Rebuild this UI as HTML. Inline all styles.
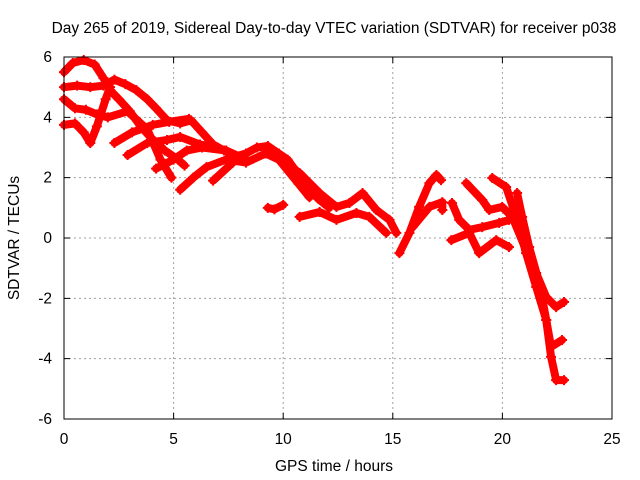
<!DOCTYPE html>
<html><head><meta charset="utf-8"><style>
body{margin:0;background:#fff}
svg{display:block;font-family:"Liberation Sans",sans-serif}
</style></head><body>
<svg id="chart" width="640" height="480">
<rect width="640" height="480" fill="#fff"/>
<g id="grid"></g>
<g id="series"></g>
<rect x="64" y="57" width="548" height="362" fill="none" stroke="#000" stroke-width="1"/>
<g id="ticks"></g>
<text x="334" y="33" text-anchor="middle" font-size="15.5">Day 265 of 2019, Sidereal Day-to-day VTEC variation (SDTVAR) for receiver p038</text>
<text x="334" y="471" text-anchor="middle" font-size="15.5">GPS time / hours</text>
<text transform="translate(19,238) rotate(-90)" text-anchor="middle" font-size="15.5">SDTVAR / TECUs</text>
</svg>
<script>
const xTicks=[0,5,10,15,20,25];
const yTicks=[-6,-4,-2,0,2,4,6];
const trackA=[[0,5.5],[0.4,5.8],[0.9,5.9],[1.4,5.75],[1.8,5.3],[2.1,4.9],[2.5,4.6],[3.0,4.2],[3.5,3.7],[4.0,3.3],[4.6,2.9],[5.2,2.6],[5.5,2.4]];
const trackB=[[0,5.0],[0.6,5.05],[1.2,5.0],[1.8,5.05],[2.3,5.25],[2.8,5.1],[3.3,4.9],[3.8,4.6],[4.2,4.3],[4.7,3.9],[5.3,3.8],[5.8,3.9],[6.3,3.5],[6.8,3.1],[7.3,2.9],[7.8,2.7],[8.3,2.8],[8.8,3.0],[9.3,3.05],[9.8,2.8],[10.2,2.6],[10.7,2.1],[11.1,1.7],[11.6,1.3],[12.1,1.0]];
const trackC=[[0,4.6],[0.5,4.3],[1.0,4.25],[1.5,4.1],[2.0,4.0],[2.9,4.2],[3.8,3.6],[4.4,2.6],[4.9,2.0]];
const trackD=[[0,3.75],[0.5,3.8],[0.9,3.5],[1.2,3.15],[1.5,3.7],[1.9,4.6],[2.1,5.0]];
const trackE=[[2.3,3.15],[3.1,3.5],[4.05,3.75],[4.8,3.85],[5.7,3.95]];
const trackF=[[2.9,2.75],[3.8,3.15],[4.7,3.25],[5.3,3.35],[6.2,3.1],[7.0,3.0]];
const trackG=[[4.2,2.3],[5.0,2.6],[5.6,2.9],[6.3,3.0],[7.4,2.9],[8.3,2.6]];
const trackH=[[5.3,1.6],[5.9,2.0],[6.5,2.35],[7.4,2.6],[8.3,2.5],[9.2,2.8],[9.8,2.6],[10.7,1.8],[11.2,1.35]];
const trackI=[[6.8,1.9],[7.7,2.5]];
const trackJ=[[9.3,1.0],[9.6,0.95],[10.0,1.1]];
const trackR1=[[9.38,2.92],[10.75,2.15],[11.66,1.49],[12.43,1.03],[13.02,1.16],[13.62,1.49],[14.25,0.93],[14.85,0.6],[15.16,0.17]];
const trackR2=[[10.75,0.7],[11.66,0.86],[12.43,0.6],[13.34,0.83],[13.93,0.7],[14.7,0.17]];
const trackR3=[[15.3,-0.5],[15.76,0.17],[16.2,1.03],[16.67,1.82],[16.99,2.09],[17.2,1.92]];
const trackR3b=[[15.9,0.36],[16.67,1.03],[17.26,1.19],[17.26,0.93]];
const trackR4=[[17.7,1.16],[18.03,0.6],[18.49,0.27],[19.08,0.36],[19.85,0.5],[20.3,0.6]];
const trackR5=[[17.67,-0.07],[18.49,0.17],[18.94,-0.5],[19.72,-0.07],[20.3,-0.3]];
const trackR6=[[18.35,1.82],[19.08,1.26],[19.4,0.93],[19.99,1.03],[20.45,0.7],[21.08,-0.4],[21.54,-1.16],[22.0,-1.96],[22.45,-2.29],[22.81,-2.12]];
const trackR7=[[19.54,1.99],[20.17,1.69],[20.63,0.7],[21.08,-0.5],[21.54,-1.62],[22.0,-2.72],[22.22,-3.61],[22.72,-3.38]];
const trackR8=[[20.67,1.49],[20.9,0.7],[21.22,-0.3],[21.68,-1.49],[22.0,-2.72],[22.22,-3.94],[22.45,-4.71],[22.81,-4.71]];
const tracks=[trackA,trackB,trackC,trackD,trackE,trackF,trackG,trackH,trackI,trackJ,trackR1,trackR2,trackR3,trackR3b,trackR4,trackR5,trackR6,trackR7,trackR8];

const L=64,R=612,T=57,B=419;
const xs=v=>L+(v-0)/(25-0)*(R-L);
const ys=v=>B-(v+6)/12*(B-T);
const NS='http://www.w3.org/2000/svg';
const grid=document.getElementById('grid'),ticks=document.getElementById('ticks'),ser=document.getElementById('series');
function mk(tag,attrs,parent){const e=document.createElementNS(NS,tag);for(const k in attrs)e.setAttribute(k,attrs[k]);parent.appendChild(e);return e;}
xTicks.forEach(t=>{
  const x=xs(t);
  if(t>0&&t<25){const g=mk('line',{x1:x,x2:x,y1:T,y2:B,stroke:'#a0a0a0','stroke-dasharray':'2,3'},grid);
  
  }
  const tk=mk('path',{d:`M${x},${B}v-6M${x},${T}v6`,stroke:'#000'},ticks);
  
  
  const lb=mk('text',{x:x,y:B+25,'text-anchor':'middle','font-size':15.5},ticks);lb.textContent=t;
  
  
});
yTicks.forEach(t=>{
  const y=ys(t);
  if(t>-6&&t<6){const g=mk('line',{x1:L,x2:R,y1:y,y2:y,stroke:'#a0a0a0','stroke-dasharray':'2,3'},grid);
  
  }
  const tk=mk('path',{d:`M${L},${y}h6M${R},${y}h-6`,stroke:'#000'},ticks);
  
  
  const lb=mk('text',{x:L-12,y:y+5,'text-anchor':'end','font-size':15.5},ticks);lb.textContent=t;
  
  
});
tracks.forEach(tr=>{
  const pl=mk('polyline',{points:tr.map(p=>xs(p[0])+','+ys(p[1])).join(' '),fill:'none',stroke:'#ff0000','stroke-width':8,'stroke-linejoin':'round','stroke-linecap':'round'},ser);
  
  
  tr.forEach(p=>{
    const x=xs(p[0]),y=ys(p[1]);
    const m=mk('path',{d:`M${x-5},${y}h10M${x},${y-5}v10`,stroke:'#ff0000','stroke-width':2},ser);
    
    
  });
});
</script>
</body></html>
